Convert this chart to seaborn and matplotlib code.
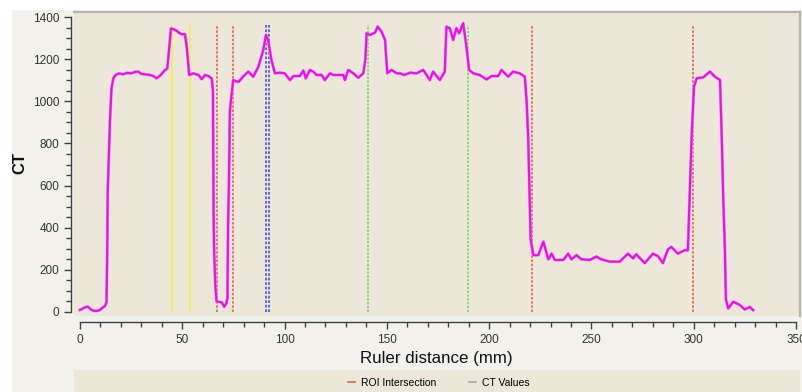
import matplotlib
matplotlib.use("Agg")
import matplotlib.pyplot as plt
from matplotlib.patches import Rectangle
from matplotlib.lines import Line2D
from matplotlib.ticker import MultipleLocator
import seaborn as sns
import pandas as pd

# ---- data ----
distance_mm = [0, 1.2, 2.4, 3.9, 5.4, 6.8, 8.3, 9.8, 11, 12.2, 13.0, 13.3, 13.6, 14.7, 15.4, 16.3,
               17.5, 19, 21, 23, 25, 27, 28.5, 30, 32, 34.2, 36, 37.5, 39.5, 41.5, 42.7, 43.6,
               44.5, 45.8, 47.2, 48.5, 49.7, 51.3, 52.2, 53.4, 55.4, 56.8, 58, 59.5, 61.1, 62.8,
               64.4, 65.0, 65.3, 65.6, 66.2, 66.8, 68, 69.4, 70.5, 71.5, 72.1, 72.4, 72.8, 73.3,
               74.9, 76.3, 77.6, 80, 82.3, 84.7, 87.2, 89.6, 90.9, 92, 93.6, 95.3, 97.7, 100,
               102.7, 104.3, 107.5, 109.2, 110.4, 112.4, 114, 115.7, 118.1, 119.7, 122.2, 123.8,
               126.3, 128.7, 129.5, 131.1, 133.6, 136, 138.5, 139.5, 140.1, 141.7, 144.2, 145.5,
               147.4, 149.1, 150.2, 152.3, 154.7, 156.4, 158.5, 161.3, 164.5, 167.8, 171, 172.6,
               175.9, 178.3, 179.1, 180.8, 182.4, 184, 185.3, 187.3, 188.9, 190.2, 192.2, 195.4,
               198.7, 201.2, 204.4, 206, 209.3, 211.7, 214.9, 217.4, 218.3, 219, 219.8, 220.3,
               221.6, 224, 226.5, 228.9, 230.5, 232.1, 236.2, 238.6, 240.2, 242.7, 245.1, 249.2,
               252.4, 254.8, 258.9, 263.8, 267.8, 270.3, 271.9, 276, 280, 282.5, 284.9, 287.3,
               289, 292.2, 295.5, 297.1, 297.9, 299, 300.1, 301.4, 304.6, 307.9, 310.3, 312.8,
               313.6, 314.4, 315.2, 315.7, 316.8, 319.3, 322.5, 324.9, 327.4, 329]
ct_values = [10, 15, 22, 25, 12, 5, 5, 10, 20, 28, 47, 262, 580, 911, 1060, 1109,
             1125, 1133, 1128, 1135, 1133, 1140, 1141, 1130, 1128, 1125, 1120, 1109, 1125, 1148, 1156, 1250,
             1346, 1342, 1335, 1325, 1319, 1319, 1260, 1125, 1133, 1128, 1125, 1105, 1125, 1120,
             1109, 1050, 500, 280, 120, 50, 48, 45, 25, 40, 65, 420, 600, 959,
             1101, 1095, 1093, 1120, 1141, 1117, 1164, 1243, 1315, 1291, 1196, 1133, 1136, 1133,
             1101, 1120, 1120, 1146, 1109, 1149, 1141, 1125, 1125, 1101, 1133, 1125,
             1125, 1125, 1101, 1149, 1133, 1112, 1133, 1200, 1323, 1315, 1326, 1355,
             1331, 1291, 1133, 1149, 1133, 1133, 1125, 1136, 1133, 1149, 1101, 1141,
             1101, 1141, 1354, 1347, 1291, 1347, 1323, 1371, 1259, 1149, 1133, 1125,
             1104, 1120, 1120, 1149, 1117, 1141, 1133, 1117, 1000, 845, 532, 342,
             270, 270, 334, 250, 277, 247, 247, 277, 250, 270, 250, 247,
             263, 250, 239, 239, 277, 255, 274, 232, 277, 265, 232, 296,
             309, 277, 293, 293, 532, 848, 1069, 1109, 1114, 1141, 1117, 1101,
             848, 532, 294, 60, 17, 49, 33, 12, 24, 9]

yellow_lines = [44.8, 53.8]
roi_lines = [66.8, 75.0, 220.7, 299.8]
blue_lines = [90.7, 92.5]
green_lines = [141.0, 189.8]
marker_top = 1362

x_label = "Ruler distance (mm)"
y_label = "CT"
legend_labels = ["ROI Intersection", "CT Values"]

df = pd.DataFrame({"distance": distance_mm, "ct": ct_values})

# ---- figure ----
W, H = 802, 392
fig = plt.figure(figsize=(W / 100, H / 100), dpi=100, facecolor="white")
fig.patches.append(Rectangle((12 / W, 0), 1, 1 - 10 / H, transform=fig.transFigure,
                             facecolor="#F2F1EC", edgecolor="none", zorder=-10))
fig.patches.append(Rectangle((74 / W, 0), 726 / W, 22 / H, transform=fig.transFigure,
                             facecolor="#ECE7D9", edgecolor="none", zorder=-5))

ax = fig.add_axes([74 / W, 1 - 316 / H, 726 / W, 304 / H])
ax.set_facecolor("#ECE7D9")

for x in yellow_lines:
    ax.vlines(x, 0, marker_top, colors="#F2EE5A", linewidth=1.4, zorder=2)
for x in roi_lines:
    ax.vlines(x, 0, marker_top, colors="#E0644A", linewidth=1.2, linestyles=(0, (1.5, 1)), zorder=2)
for x in blue_lines:
    ax.vlines(x, 0, marker_top, colors="#4F5BE0", linewidth=1.3, linestyles=(0, (1.5, 1)), zorder=2)
for x in green_lines:
    ax.vlines(x, 0, marker_top, colors="#5EE04A", linewidth=1.1, linestyles=(0, (1.5, 1)), zorder=2)

sns.lineplot(data=df, x="distance", y="ct", ax=ax, estimator=None, sort=False,
             color="#B8B0B8", linewidth=2.2, zorder=3)
sns.lineplot(data=df, x="distance", y="ct", ax=ax, estimator=None, sort=False,
             color="#FF00FF", linewidth=1.5, zorder=4)

ax.set_xlim(-2.9, 351.9)
ax.set_ylim(-19, 1424)
ax.set_xlabel("")
ax.set_ylabel("")

spine_col = "#404040"
ax.spines["bottom"].set_position(("outward", 4.3))
ax.spines["bottom"].set_bounds(0, 350)
ax.spines["left"].set_position(("outward", 2.5))
ax.spines["left"].set_bounds(0, 1400)
for s in ("bottom", "left"):
    ax.spines[s].set_color(spine_col)
    ax.spines[s].set_linewidth(1.0)
for s in ("top", "right"):
    ax.spines[s].set_color("#B4B4B0")
    ax.spines[s].set_linewidth(1.6)

ax.xaxis.set_major_locator(MultipleLocator(50))
ax.xaxis.set_minor_locator(MultipleLocator(10))
ax.yaxis.set_major_locator(MultipleLocator(200))
ax.yaxis.set_minor_locator(MultipleLocator(50))
ax.tick_params(axis="both", which="major", length=5, width=1, color=spine_col,
               labelsize=8.5, labelcolor="#333333", direction="out")
ax.tick_params(axis="both", which="minor", length=3.5, width=1, color=spine_col, direction="out")
ax.tick_params(axis="x", which="major", pad=4)
ax.tick_params(axis="y", which="major", pad=3)
for lab in ax.get_xticklabels() + ax.get_yticklabels():
    lab.set_family(["Liberation Sans", "DejaVu Sans"])

fig.text(436 / W, 1 - 359 / H, x_label, ha="center", va="center", fontsize=12.2,
         color="#111111", family=["Liberation Sans", "DejaVu Sans"])
fig.text(20 / W, 1 - 163 / H, y_label, ha="center", va="center", rotation=90, fontsize=12,
         fontweight="bold", color="#111111", family=["Liberation Sans", "DejaVu Sans"])

handles = [Line2D([0], [0], color="#E0644A", linewidth=1.2),
           Line2D([0], [0], color="#A8A8A8", linewidth=1.2)]
fig.legend(handles, legend_labels, loc="center", bbox_to_anchor=(439 / W, 1 - 382.5 / H),
           ncol=2, frameon=False, handlelength=0.6, handletextpad=0.6, columnspacing=3.2,
           prop={"family": ["Liberation Sans", "DejaVu Sans"], "size": 7.5})

fig.savefig("out.png", dpi=100, facecolor=fig.get_facecolor())
